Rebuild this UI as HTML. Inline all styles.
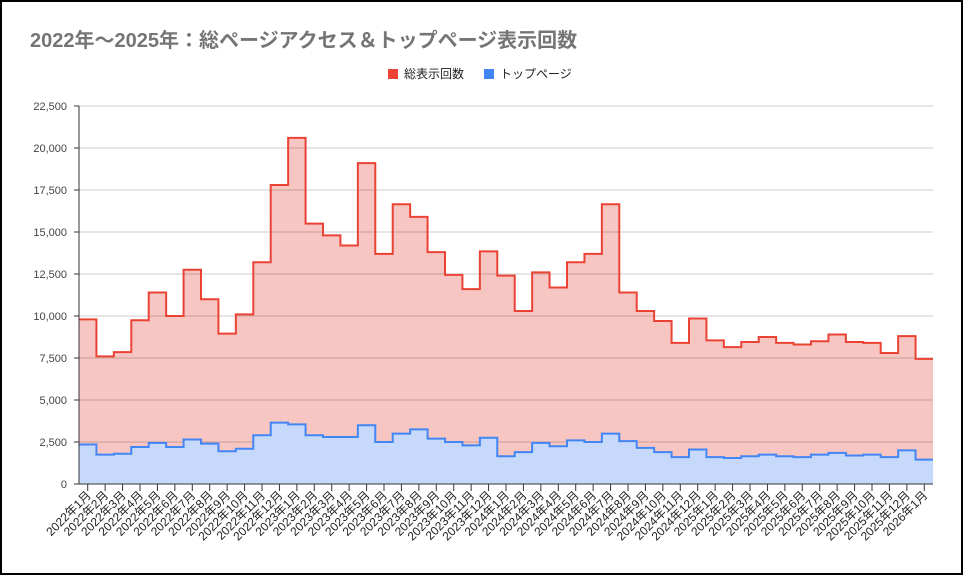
<!DOCTYPE html>
<html><head><meta charset="utf-8"><style>
html,body{margin:0;padding:0;background:#fff}
#c{position:absolute;left:0;top:0;width:963px;height:575px}
text{font-family:"Liberation Sans","Noto Sans CJK JP",sans-serif}
</style></head><body>
<svg id="c" width="963" height="575" xmlns="http://www.w3.org/2000/svg"></svg>
<script>
const red=[9800,7600,7850,9750,11400,10000,12750,11000,8950,10100,13200,17800,20600,15500,14800,14200,19100,13700,16650,15900,13800,12450,11600,13850,12400,10300,12600,11700,13200,13700,16650,11400,10300,9700,8400,9850,8550,8150,8450,8750,8400,8300,8500,8900,8450,8400,7800,8800,7450];
const blue=[2350,1750,1800,2200,2450,2200,2650,2400,1950,2100,2900,3650,3550,2900,2800,2800,3500,2500,3000,3250,2700,2500,2300,2750,1650,1900,2450,2250,2600,2500,3000,2550,2150,1900,1600,2050,1600,1550,1650,1750,1650,1600,1750,1850,1700,1750,1600,2000,1450];
const X0=79,X1=933,Y0=484,n=49,w=(X1-X0)/n;
const Y=v=>Y0-v*378/22500;
let s='<rect x="1" y="1" width="961" height="573" fill="#fff" stroke="#000" stroke-width="2"/>';
s+='<text x="30" y="47" font-size="20" font-weight="bold" fill="#757575">2022年～2025年：総ページアクセス＆トップページ表示回数</text>';
s+='<rect x="388" y="69" width="10" height="10" fill="#ea4335"/><text x="404" y="78" font-size="12" fill="#222">総表示回数</text>';
s+='<rect x="484" y="69" width="10" height="10" fill="#4285f4"/><text x="500" y="78" font-size="12" fill="#222">トップページ</text>';
function step(d){let p=`M${X0},${Y(d[0])}`;for(let i=0;i<n;i++){p+=` L${X0+i*w},${Y(d[i])} L${X0+(i+1)*w},${Y(d[i])}`;}return p;}
const r=step(red),b=step(blue);
s+=`<path d="${r} L${X1},${Y0} L${X0},${Y0} Z" fill="#f8c6c2"/>`;
for(let i=0;i<=9;i++){const y=Y(i*2500);
 if(i>0)s+=`<line x1="${X0}" x2="${X1}" y1="${y}" y2="${y}" stroke="#000" stroke-opacity="0.2" stroke-width="1"/>`;
 s+=`<text x="67" y="${y+4}" font-size="11" text-anchor="end" fill="#444">${(i*2500).toLocaleString('en-US')}</text>`;
 s+=`<line x1="${X0-5}" x2="${X0}" y1="${y}" y2="${y}" stroke="#333"/>`;}
s+=`<path d="${b} L${X1},${Y0} L${X0},${Y0} Z" fill="#c6d9fa"/>`;
s+=`<path d="${r}" fill="none" stroke="#ea4335" stroke-width="2"/>`;
s+=`<path d="${b}" fill="none" stroke="#4285f4" stroke-width="2"/>`;
s+=`<line x1="${X0}" x2="${X0}" y1="106" y2="${Y0}" stroke="#333"/>`;
s+=`<line x1="${X0}" x2="${X1}" y1="${Y0}" y2="${Y0}" stroke="#333"/>`;
for(let i=0;i<n;i++){const x=X0+(i+0.5)*w;const yr=2022+Math.floor(i/12),m=i%12+1;
 s+=`<line x1="${x}" x2="${x}" y1="${Y0}" y2="${Y0+7}" stroke="#333"/>`;
 s+=`<text transform="translate(${x+4},${Y0+12}) rotate(-45)" font-size="12" text-anchor="end" fill="#222">${yr}年${m}月</text>`;}
document.getElementById('c').innerHTML=s;
</script>
</body></html>
